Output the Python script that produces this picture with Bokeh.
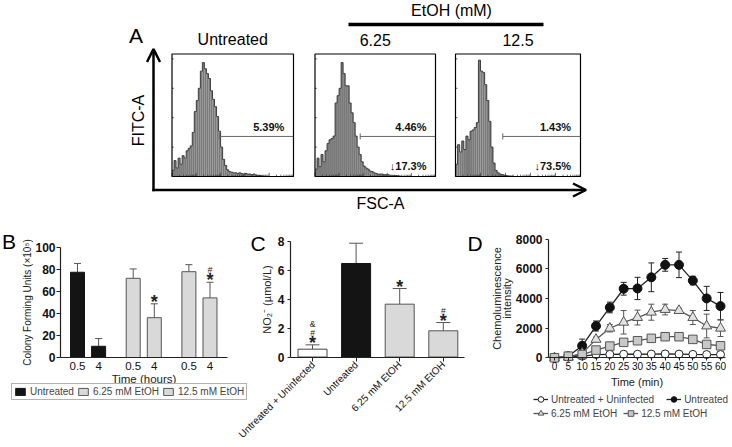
import math
from bokeh.plotting import figure
from bokeh.models import (Range1d, ColumnDataSource, Whisker, TeeHead, Arrow,
                          OpenHead, Legend, LegendItem, Label)
from bokeh.layouts import column, row
from bokeh.embed import file_html
from bokeh.resources import INLINE
from bokeh.core.properties import value

FONT = "Liberation Sans"

# ---------------- Panel A : flow cytometry histograms ----------------
hist_titles = ["Untreated", "6.25", "12.5"]
hist_untreated = [0.05, 0.13, 0.07, 0.15, 0.10, 0.17, 0.15, 0.21, 0.23, 0.25,
                  0.36, 0.53, 0.62, 0.72, 0.86, 0.93, 0.88, 0.84, 0.80, 0.70,
                  0.63, 0.57, 0.49, 0.37, 0.24, 0.14, 0.09, 0.055, 0.04, 0.035,
                  0.03, 0.03, 0.025, 0.03, 0.025, 0.02, 0.025, 0.02, 0.02, 0.015,
                  0.02, 0.012, 0.01, 0.008, 0.005, 0.003, 0, 0, 0, 0,
                  0, 0, 0, 0, 0, 0, 0, 0, 0, 0]
hist_etoh_625 = [0.06, 0.15, 0.08, 0.18, 0.12, 0.21, 0.27, 0.30, 0.31, 0.33,
                 0.60, 0.66, 0.72, 0.93, 0.84, 0.74, 0.74, 0.60, 0.52, 0.44,
                 0.33, 0.24, 0.18, 0.12, 0.085, 0.07, 0.06, 0.045, 0.04, 0.03,
                 0.025, 0.02, 0.02, 0.02, 0.015, 0.015, 0.015, 0.01, 0.01, 0.008,
                 0.008, 0.005, 0.003, 0, 0, 0, 0, 0, 0, 0,
                 0, 0, 0, 0, 0, 0, 0, 0, 0, 0]
hist_etoh_125 = [0.10, 0.26, 0.20, 0.29, 0.22, 0.33, 0.30, 0.37, 0.38, 0.40,
                 0.44, 0.95, 0.86, 0.85, 0.75, 0.62, 0.45, 0.24, 0.11, 0.05,
                 0.03, 0.02, 0.015, 0.01, 0.008, 0.005, 0.004, 0.003, 0, 0,
                 0, 0, 0, 0, 0, 0, 0, 0, 0, 0,
                 0, 0, 0, 0, 0, 0, 0, 0, 0, 0,
                 0, 0, 0, 0, 0, 0, 0, 0, 0, 0]
gate_start_bin = [23.3, 22.5, 22.7]
gate_level = [0.327, 0.327, 0.327]
gate_pct = ["5.39%", "4.46%", "1.43%"]
low_pct = ["", "\u219317.3%", "\u219373.5%"]

# ---------------- Panel B : CFU ----------------
b_groups = ["Untreated", "6.25 mM EtOH", "12.5 mM EtOH"]
b_times = ["0.5", "4"]
b_cfu = [77.5, 10.2, 72.0, 36.2, 78.0, 54.2]
b_cfu_err = [8.0, 7.0, 8.5, 12.6, 6.4, 14.2]
b_star = ["", "", "", "*", "", "*"]
b_hash = ["", "", "", "", "", "#"]

# ---------------- Panel C : nitrite ----------------
c_cats = ["Untreated + Uninfected", "Untreated", "6.25 mM EtOH", "12.5 mM EtOH"]
c_no2 = [0.54, 6.46, 3.65, 1.81]
c_no2_err = [0.30, 1.40, 1.08, 0.57]
c_star = ["*", "", "*", "*"]
c_hash = ["#", "", "", "#"]
c_amp = ["&", "", "", ""]

# ---------------- Panel D : chemiluminescence ----------------
d_time = [0, 5, 10, 15, 20, 25, 30, 35, 40, 45, 50, 55, 60]
d_uninf = [0, 50, 110, 220, 230, 240, 240, 250, 260, 250, 230, 220, 220]
d_uninf_err = [0, 0, 20, 30, 30, 30, 30, 30, 30, 30, 30, 30, 30]
d_untr = [0, 100, 810, 2140, 3390, 4650, 4670, 5420, 6260, 6260, 5200, 4000, 3480]
d_untr_err = [0, 50, 450, 340, 360, 430, 750, 970, 430, 860, 290, 810, 920]
d_e625 = [0, 40, 300, 1240, 1990, 2390, 2710, 3070, 3250, 3180, 2710, 2140, 1990]
d_e625_err = [0, 20, 100, 150, 250, 790, 500, 540, 360, 150, 470, 800, 560]
d_e125 = [0, 110, 220, 520, 790, 1040, 1150, 1310, 1420, 1420, 1240, 900, 810]
d_e125_err = [0, 20, 40, 60, 80, 100, 100, 80, 120, 100, 80, 100, 80]
d_labels = ["Untreated + Uninfected", "Untreated", "6.25 mM EtOH", "12.5 mM EtOH"]

# =====================================================================
# Panel A
# =====================================================================
A_H = 222
pA = figure(width=732, height=A_H, x_range=Range1d(0, 732), y_range=Range1d(A_H, 0),
            x_axis_type=None, y_axis_type=None, toolbar_location=None,
            output_backend="svg", min_border=0, outline_line_color=None)

box_left = [171.5, 314.5, 455.0]
box_right = [293.0, 435.0, 580.0]
BOX_TOP, BOX_BOTTOM = 53.5, 176.0
NB = len(hist_untreated)
hists = [hist_untreated, hist_etoh_625, hist_etoh_125]

for k in range(3):
    sub = pA.subplot(x_source=Range1d(0, NB), y_source=Range1d(0, 1),
                     x_target=Range1d(box_left[k], box_right[k]),
                     y_target=Range1d(BOX_BOTTOM, BOX_TOP))
    h = hists[k]
    sub.quad(left=list(range(NB)), right=[i + 1 for i in range(NB)], bottom=0, top=h,
             fill_color="#7a7a7a", line_color=None)
    sub.step(x=list(range(NB + 1)), y=h + [0], mode="after", line_color="#333333", line_width=0.9)
    sub.segment(x0=[gate_start_bin[k]], y0=[gate_level[k]], x1=[NB], y1=[gate_level[k]],
                line_color="#666666", line_width=1)
    sub.segment(x0=[gate_start_bin[k]], y0=[gate_level[k] - 0.025], x1=[gate_start_bin[k]],
                y1=[gate_level[k] + 0.025], line_color="#666666", line_width=1)
    fr = [0.24, 0.48, 0.72, 0.96]
    sub.segment(x0=[0] * 4, y0=fr, x1=[0.9] * 4, y1=fr, line_color="#333333", line_width=0.8)
    tx, ty = [], []
    for d0 in [0, 12, 24, 36, 48]:
        for m in range(1, 10):
            tx.append(d0 + 12 * math.log10(m))
            ty.append(0.03 if m == 1 else 0.015)
    sub.segment(x0=tx, y0=[0] * len(tx), x1=tx, y1=ty, line_color="#333333", line_width=0.7)
    sub.text(x=[55.5], y=[0.404], text=[gate_pct[k]], text_font=value(FONT), text_font_size="11px",
             text_font_style="bold", text_align="right", text_baseline="middle", text_color="#111111")
    if low_pct[k]:
        sub.text(x=[55.5], y=[0.086], text=[low_pct[k]], text_font=value(FONT), text_font_size="11px",
                 text_font_style="bold", text_align="right", text_baseline="middle",
                 text_color="#111111")

pA.quad(left=box_left, right=box_right, top=BOX_TOP, bottom=BOX_BOTTOM,
        fill_color=None, line_color="black", line_width=1.2)
pA.text(x=[(l + r) / 2 for l, r in zip(box_left, box_right)], y=[39] * 3, text=hist_titles,
        text_font=value(FONT), text_font_size="16px", text_align="center", text_baseline="middle")
pA.text(x=[451], y=[10], text=["EtOH (mM)"], text_font=value(FONT), text_font_size="16px",
        text_align="center", text_baseline="middle")
pA.segment(x0=[348], y0=[24], x1=[543], y1=[24], line_color="black", line_width=3.3)
pA.text(x=[135.5], y=[35], text=["A"], text_font=value(FONT),
        text_font_size="21px", text_align="center", text_baseline="middle")
pA.text(x=[138], y=[120], text=["FITC-A"], angle=math.pi / 2, text_font=value(FONT),
        text_font_size="16px", text_align="center", text_baseline="middle")
pA.text(x=[380], y=[203], text=["FSC-A"], text_font=value(FONT), text_font_size="16px",
        text_align="center", text_baseline="middle")
pA.add_layout(Arrow(end=OpenHead(size=13, line_width=2.5, line_color="black"),
                    x_start=153, y_start=190.7, x_end=153, y_end=48.5,
                    line_width=2.5, line_color="black"))
pA.add_layout(Arrow(end=OpenHead(size=13, line_width=2.5, line_color="black"),
                    x_start=151.8, y_start=189.5, x_end=585.5, y_end=189.5,
                    line_width=2.5, line_color="black"))

# =====================================================================
# helpers for the lower panels: the plot frame fills the whole canvas, the axes are
# pinned (fixed_location) where the original draws them.
# =====================================================================
ROW_TOP, ROW_BOTTOM = 222, 447


def lin(p0, v0, p1, v1):
    k = (v1 - v0) / (p1 - p0)
    return lambda px: v0 + (px - p0) * k


def make_fig(left, right, fx, fy, **kw):
    p = figure(width=right - left, height=ROW_BOTTOM - ROW_TOP, toolbar_location=None,
               output_backend="svg", min_border=0,
               x_range=Range1d(fx(left), fx(right)), y_range=Range1d(fy(ROW_BOTTOM), fy(ROW_TOP)),
               border_fill_color=None, background_fill_color=None, outline_line_color=None, **kw)
    p.grid.visible = False
    return p


def style_axes(p):
    for ax in p.axis:
        ax.axis_line_color = "#222222"
        ax.axis_line_width = 1.2
        ax.major_tick_line_color = "#222222"
        ax.minor_tick_line_color = None
        ax.axis_label_text_font = FONT
        ax.axis_label_text_font_style = "normal"
        ax.axis_label_text_color = "#222222"
        ax.major_label_text_font = FONT
        ax.major_label_text_color = "#111111"


def sig_marks(p, xs, ys, texts, size, yoff, bold=False):
    keep = [(x, y, t) for x, y, t in zip(xs, ys, texts) if t]
    if not keep:
        return
    p.text(x=[k[0] for k in keep], y=[k[1] for k in keep], text=[k[2] for k in keep],
           text_font=value(FONT), text_font_size=size, text_font_style="bold" if bold else "normal",
           text_align="center", text_baseline="alphabetic", y_offset=yoff, text_color="#222222")


def letter(p, left, px, py, txt):
    p.add_layout(Label(x=px - left, y=ROW_BOTTOM - py, x_units="screen", y_units="screen",
                       text=txt, text_font=FONT, text_font_size="21px",
                       text_align="center", text_baseline="middle", text_color="black"))


STAR_SIZE, STAR_OFF = "18px", -2.0
HASH_OFF, AMP_OFF = -12.0, -20.5

# =====================================================================
# Panel B
# =====================================================================
GROUP_STEP = 2.64
b_x = [gi * GROUP_STEP + ti for gi in range(len(b_groups)) for ti in range(len(b_times))]
b_ticklab = [t for g in b_groups for t in b_times]
BL, BR = 0, 250
bx = lin(77, 0, 209.5, b_x[-1])
by = lin(357, 0, 247, 100)
pB = make_fig(BL, BR, bx, by)
B_FILL = ["#141414", "#d9d9d9", "#d9d9d9"]
B_LINE = ["#141414", "#555555", "#555555"]
b_items = []
for gi, g in enumerate(b_groups):
    r = pB.vbar(x=b_x[2 * gi:2 * gi + 2], top=b_cfu[2 * gi:2 * gi + 2], width=14 / 21.1,
                fill_color=B_FILL[gi], line_color=B_LINE[gi], line_width=1)
    b_items.append(LegendItem(label=g, renderers=[r]))
b_up = [v + e for v, e in zip(b_cfu, b_cfu_err)]
b_src = ColumnDataSource(dict(x=b_x, top=b_cfu, upper=b_up))
pB.add_layout(Whisker(source=b_src, base="x", upper="upper", lower="top",
                      upper_head=TeeHead(size=7, line_color="#555555", line_width=1),
                      lower_head=None, line_color="#555555", line_width=1))
sig_marks(pB, b_x, b_up, b_star, STAR_SIZE, STAR_OFF, bold=True)
sig_marks(pB, b_x, b_up, b_hash, "9px", HASH_OFF)
style_axes(pB)
pB.yaxis.fixed_location = bx(60)
pB.yaxis.bounds = (0, 100)
pB.yaxis.ticker = [0, 20, 40, 60, 80, 100]
pB.yaxis.major_label_text_font_size = "12px"
pB.yaxis.major_label_text_font_style = "bold"
pB.yaxis.major_tick_out = 4
pB.yaxis.major_tick_in = 0
pB.yaxis.major_label_standoff = 1
pB.yaxis.axis_label = "Colony Forming Units (\u00d710\u2075)"
pB.yaxis.axis_label_text_font_size = "10px"
pB.yaxis.axis_label_standoff = -1
pB.xaxis.fixed_location = 0
pB.xaxis.bounds = (bx(60), bx(227))
pB.xaxis.ticker = b_x
pB.xaxis.major_label_overrides = {x: t for x, t in zip(b_x, b_ticklab)}
pB.xaxis.major_tick_line_color = None
pB.xaxis.major_tick_out = 0
pB.xaxis.major_label_text_font_size = "11.5px"
pB.xaxis.major_label_standoff = 4
pB.xaxis.axis_label = "Time (hours)"
pB.xaxis.axis_label_text_font_size = "11.5px"
pB.xaxis.axis_label_standoff = 0
legB = Legend(items=b_items, orientation="horizontal", location=(11 - BL, ROW_BOTTOM - 400),
              label_text_font=FONT, label_text_font_size="10px", label_height=9,
              glyph_width=12, glyph_height=9, label_standoff=4, spacing=3, padding=2, margin=0,
              border_line_color="#666666", border_line_width=1, background_fill_color="white")
pB.add_layout(legB, "center")
letter(pB, BL, 8.5, 240.5, "B")

# =====================================================================
# Panel C  (its canvas overlaps the right end of panel B's canvas by BR - CL pixels)
# =====================================================================
c_x = list(range(len(c_cats)))
CL, CR = 236, 466
cx = lin(312, 0, 442.8, 3)
cy = lin(356.5, 0, 240.7, 8)
pC = make_fig(CL, CR, cx, cy, margin=(0, 0, 0, CL - BR))
C_FILL = ["white", "#141414", "#d9d9d9", "#d9d9d9"]
C_LINE = ["#444444", "#141414", "#555555", "#555555"]
c_up = [v + e for v, e in zip(c_no2, c_no2_err)]
c_src = ColumnDataSource(dict(x=c_x, top=c_no2, upper=c_up, fill=C_FILL, line=C_LINE))
pC.vbar(x="x", top="top", width=29 / 43.6, fill_color="fill", line_color="line", line_width=1,
        source=c_src)
pC.add_layout(Whisker(source=c_src, base="x", upper="upper", lower="top",
                      upper_head=TeeHead(size=14, line_color="#555555", line_width=1),
                      lower_head=None, line_color="#555555", line_width=1))
sig_marks(pC, c_x, c_up, c_star, STAR_SIZE, STAR_OFF, bold=True)
sig_marks(pC, c_x, c_up, c_hash, "8.5px", HASH_OFF)
sig_marks(pC, c_x, c_up, c_amp, "8.5px", AMP_OFF)
style_axes(pC)
pC.yaxis.fixed_location = cx(290)
pC.yaxis.bounds = (0, 8)
pC.yaxis.ticker = [0, 2, 4, 6, 8]
pC.yaxis.major_label_text_font_size = "12px"
pC.yaxis.major_label_text_font_style = "bold"
pC.yaxis.major_tick_out = 3
pC.yaxis.major_tick_in = 0
pC.yaxis.major_label_standoff = 3
pC.yaxis.axis_label = "NO\u2082\u207b (\u00b5mol/L)"
pC.yaxis.axis_label_text_font_size = "11px"
pC.yaxis.axis_label_standoff = 2
pC.xaxis.fixed_location = 0
pC.xaxis.bounds = (cx(290), cx(464))
pC.xaxis.ticker = c_x
pC.xaxis.major_label_overrides = {x: t for x, t in zip(c_x, c_cats)}
pC.xaxis.major_label_orientation = math.pi / 4
pC.xaxis.major_label_text_font_size = "10px"
pC.xaxis.major_tick_out = 4
pC.xaxis.major_tick_in = 0
pC.xaxis.major_label_standoff = 2
letter(pC, CL, 257.5, 242.5, "C")

# =====================================================================
# Panel D
# =====================================================================
DL, DR = 466, 732
dx = lin(554, 0, 720, 60)
dy = lin(357.3, 0, 238.5, 8000)
pD = make_fig(DL, DR, dx, dy)
series = [
    (d_uninf, d_uninf_err, "circle", 8, "white", "#222222", "#222222"),
    (d_untr, d_untr_err, "circle", 9, "#111111", "#111111", "#222222"),
    (d_e625, d_e625_err, "triangle", 10, "#e2e2e2", "#555555", "#555555"),
    (d_e125, d_e125_err, "square", 8.5, "#c8c8c8", "#555555", "#555555"),
]
d_items = []
for (vals, errs, mk, sz, fc, lc, linec), lab in zip(series, d_labels):
    src = ColumnDataSource(dict(t=d_time, v=vals, up=[v + e for v, e in zip(vals, errs)],
                                lo=[v - e for v, e in zip(vals, errs)]))
    pD.add_layout(Whisker(source=src, base="t", upper="up", lower="lo", level="underlay",
                          upper_head=TeeHead(size=6, line_color=linec, line_width=1),
                          lower_head=TeeHead(size=6, line_color=linec, line_width=1),
                          line_color=linec, line_width=1))
    ln = pD.line(x="t", y="v", source=src, line_color=linec, line_width=1.3)
    sc = pD.scatter(x="t", y="v", source=src, marker=mk, size=sz, fill_color=fc,
                    line_color=lc, line_width=1)
    d_items.append(LegendItem(label=lab, renderers=[ln, sc]))
style_axes(pD)
pD.xaxis.fixed_location = 0
pD.xaxis.bounds = (dx(548), dx(725))
pD.xaxis.ticker = d_time
pD.xaxis.major_label_text_font_size = "10px"
pD.xaxis.major_tick_out = 3
pD.xaxis.major_tick_in = 0
pD.xaxis.major_label_standoff = 1
pD.xaxis.axis_label = "Time (min)"
pD.xaxis.axis_label_text_font_size = "11px"
pD.xaxis.axis_label_standoff = 3
pD.yaxis.fixed_location = dx(548)
pD.yaxis.bounds = (0, 8000)
pD.yaxis.ticker = [0, 2000, 4000, 6000, 8000]
pD.yaxis.major_label_text_font_size = "12px"
pD.yaxis.major_label_text_font_style = "bold"
pD.yaxis.major_tick_out = 3
pD.yaxis.major_tick_in = 0
pD.yaxis.major_label_standoff = 3
pD.yaxis.axis_label = "Chemoluminescence\nintensity"
pD.yaxis.axis_label_text_font_size = "11px"
pD.yaxis.axis_label_text_line_height = 0.85
pD.yaxis.axis_label_standoff = 0
for items, sp, ybot in [(d_items[:2], 12, 406), (d_items[2:], 6, 420)]:
    lg = Legend(items=items, orientation="horizontal", location=(533 - DL, ROW_BOTTOM - ybot),
                label_text_font=FONT, label_text_font_size="10px", label_height=14,
                glyph_width=15, glyph_height=14, label_standoff=3, spacing=sp, padding=0, margin=0,
                border_line_color=None, background_fill_alpha=0)
    pD.add_layout(lg, "center")
letter(pD, DL, 474.5, 242.5, "D")

root = column(pA, row(pB, pC, pD))
open("out.html", "w").write(file_html(root, INLINE))
